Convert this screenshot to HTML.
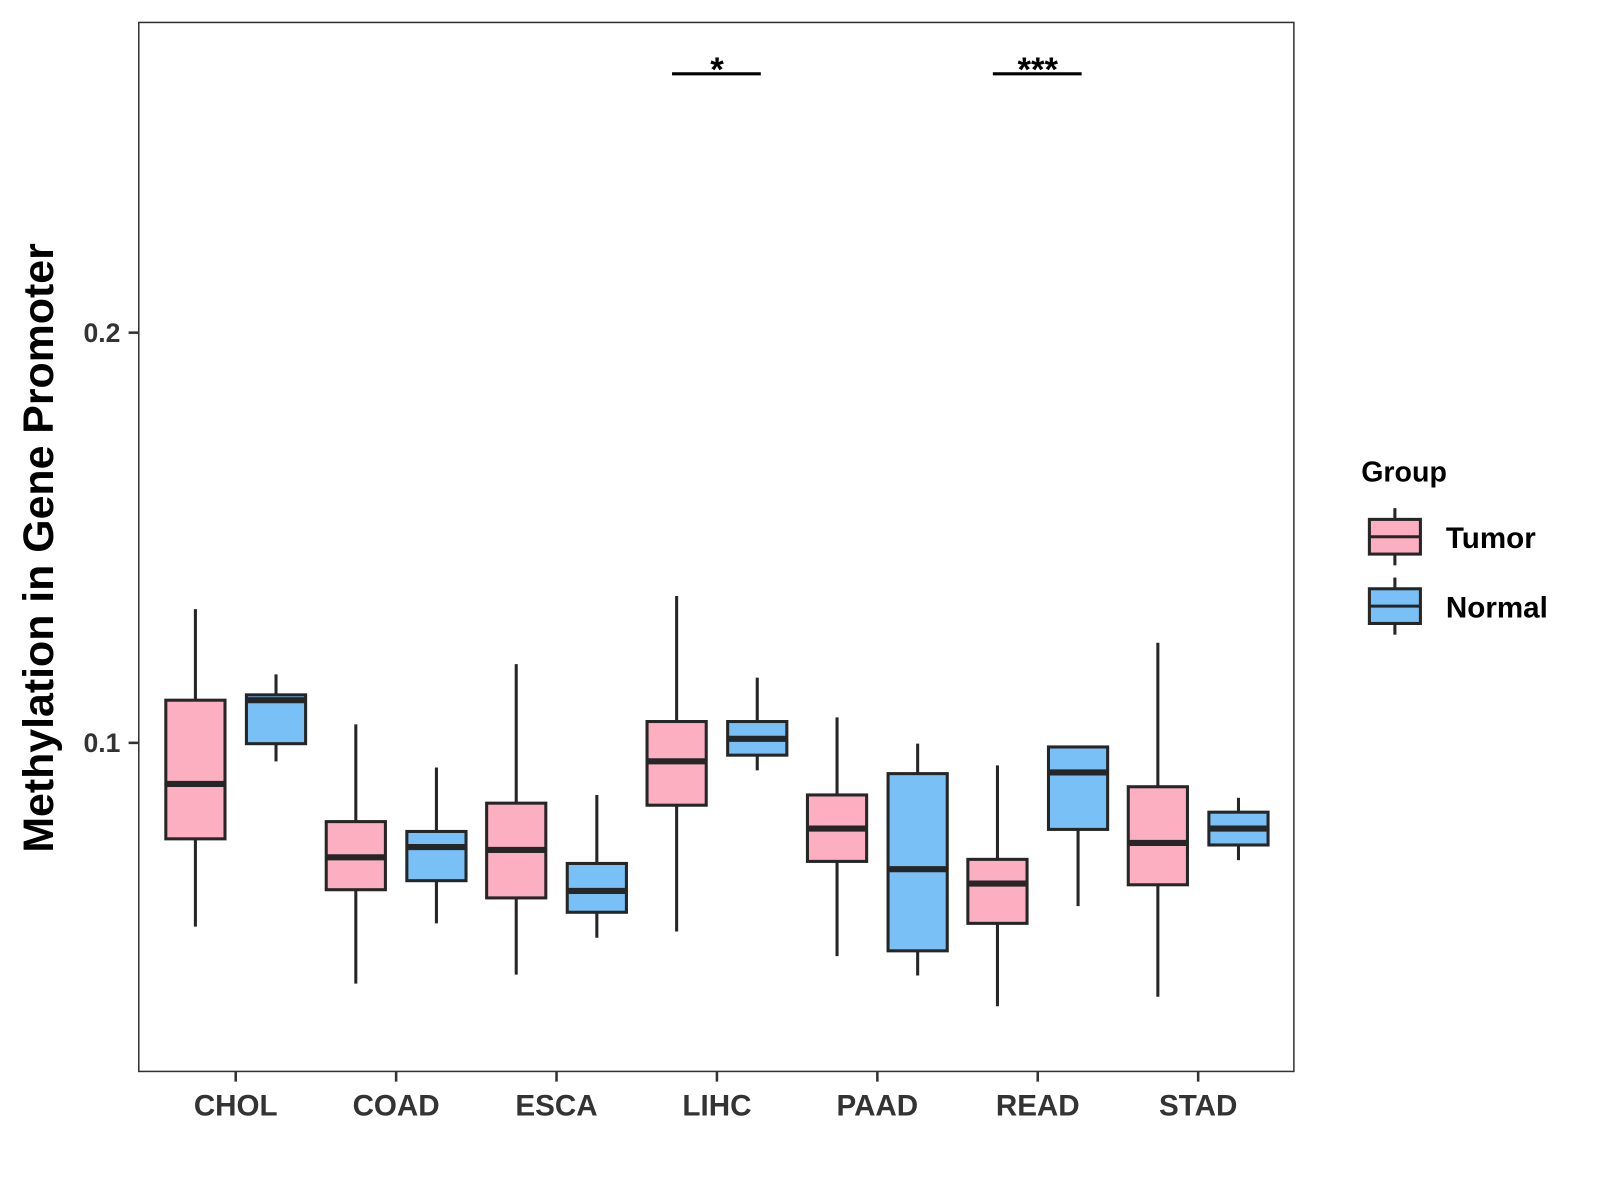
<!DOCTYPE html>
<html><head><meta charset="utf-8"><style>html,body{margin:0;padding:0;background:#fff}svg{display:block}</style></head>
<body>
<svg id="chart" width="1600" height="1200" viewBox="0 0 1568 1176" xmlns="http://www.w3.org/2000/svg" font-family="Liberation Sans, sans-serif" font-weight="bold">
<rect x="0" y="0" width="1568" height="1176" fill="#fff"/>
<rect x="136" y="22" width="1132" height="1028" fill="none" stroke="#333" stroke-width="1.5"/>
<g id="marks"></g>
<g id="axes"></g>
<text transform="translate(52,537) rotate(-90)" text-anchor="middle" font-size="42" fill="#000">Methylation in Gene Promoter</text>
<g>
<text x="1334" y="472" font-size="28" fill="#000">Group</text>
<g>
<line x1="1367" y1="498" x2="1367" y2="554" stroke="#262626" stroke-width="3"/>
<rect x="1342" y="509" width="50" height="34" fill="#FCAFC1" stroke="#262626" stroke-width="3"/>
<line x1="1342" y1="526" x2="1392" y2="526" stroke="#262626" stroke-width="3"/>
<text x="1417" y="537" font-size="29" fill="#000">Tumor</text></g>
<g>
<line x1="1367" y1="566" x2="1367" y2="622" stroke="#262626" stroke-width="3"/>
<rect x="1342" y="577" width="50" height="34" fill="#78C0F5" stroke="#262626" stroke-width="3"/>
<line x1="1342" y1="594" x2="1392" y2="594" stroke="#262626" stroke-width="3"/>
<text x="1417" y="605" font-size="29" fill="#000">Normal</text></g>
</g>
</svg>
<script>
const categories=["CHOL","COAD","ESCA","LIHC","PAAD","READ","STAD"];
// [whiskerLow, q1, median, q3, whiskerHigh]
const tumorStats=[[0.0552,0.0766,0.0900,0.1104,0.1326],[0.0413,0.0642,0.0721,0.0808,0.1045],[0.0435,0.0622,0.0739,0.0853,0.1192],[0.0540,0.0848,0.0955,0.1052,0.1358],[0.0480,0.0711,0.0791,0.0873,0.1062],[0.0358,0.0560,0.0657,0.0716,0.0945],[0.0381,0.0654,0.0756,0.0893,0.1244]];
const normalStats=[[0.0955,0.0998,0.1104,0.1117,0.1167],[0.0560,0.0664,0.0746,0.0784,0.0940],[0.0525,0.0587,0.0639,0.0706,0.0873],[0.0933,0.0970,0.1010,0.1052,0.1159],[0.0433,0.0493,0.0692,0.0925,0.0998],[0.0602,0.0789,0.0928,0.0990,0.0993],[0.0714,0.0751,0.0791,0.0831,0.0866]];
const yTicks=[0.1,0.2];
const sigCategories=["LIHC","READ"];
const sigLabels=["*","***"];
const sigValue=0.2631;

const NS="http://www.w3.org/2000/svg";
const x=i=>231+i*157.2;
const y=v=>728-(v-0.1)*4020;
const marks=document.getElementById('marks'), axes=document.getElementById('axes');
function mk(tag,a,p){const e=document.createElementNS(NS,tag);for(const k in a)e.setAttribute(k,a[k]);p.appendChild(e);return e;}
function box(cx,s,fill,name){
  const g=mk('g',{},marks);
  
  
  mk('line',{x1:cx,x2:cx,y1:y(s[4]),y2:y(s[0]),stroke:'#262626','stroke-width':3},g);
  mk('rect',{x:cx-29,y:y(s[3]),width:58,height:y(s[1])-y(s[3]),fill:fill,stroke:'#262626','stroke-width':3},g);
  mk('line',{x1:cx-29,x2:cx+29,y1:y(s[2]),y2:y(s[2]),stroke:'#262626','stroke-width':6},g);
}
categories.forEach((c,i)=>{
  box(x(i)-39.5,tumorStats[i],'#FCAFC1','box-tumor-'+c.toLowerCase());
  box(x(i)+39.5,normalStats[i],'#78C0F5','box-normal-'+c.toLowerCase());
  mk('line',{x1:x(i),x2:x(i),y1:1050,y2:1060,stroke:'#333','stroke-width':2.5},axes);
  const t=mk('text',{x:x(i),y:1093,'text-anchor':'middle','font-size':29,fill:'#333'},axes);
  
  
  t.textContent=c;
});
yTicks.forEach(v=>{
  mk('line',{x1:126,x2:136,y1:y(v),y2:y(v),stroke:'#333','stroke-width':2.5},axes);
  const t=mk('text',{x:118,y:y(v)+9,'text-anchor':'end','font-size':26,fill:'#333'},axes);
  
  
  t.textContent=v.toFixed(1);
});
sigCategories.forEach((c,k)=>{
  const i=categories.indexOf(c);
  const g=mk('g',{},marks);
  
  
  mk('line',{x1:x(i)-44,x2:x(i)+43,y1:y(sigValue),y2:y(sigValue),stroke:'#000','stroke-width':3},g);
  const t=mk('text',{x:x(i),y:y(sigValue)+7,'text-anchor':'middle','font-size':34,fill:'#000'},g);
  t.textContent=sigLabels[k];
});
</script>
</body></html>
